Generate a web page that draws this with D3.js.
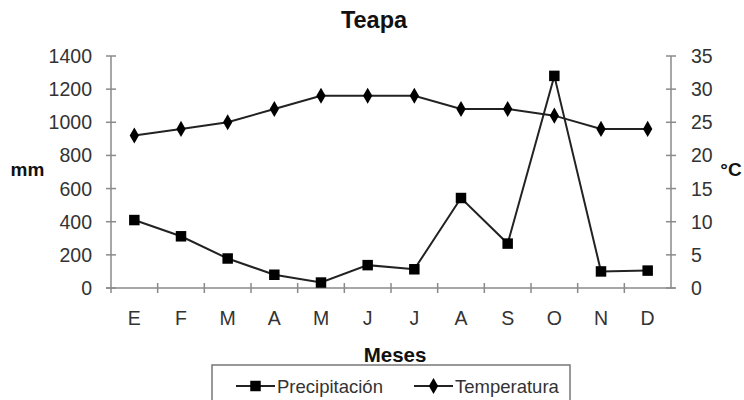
<!DOCTYPE html>
<html><head><meta charset="utf-8">
<script src="https://cdn.jsdelivr.net/npm/d3@7"></script>
<style>body{margin:0;background:#fff}svg{display:block}</style>
</head><body><svg id="c" width="744" height="400"></svg>
<script>
const months = ["E","F","M","A","M","J","J","A","S","O","N","D"];
const precip = [410, 312, 178, 80, 33, 138, 113, 543, 268, 1280, 100, 105];
const temp = [23, 24, 25, 27, 29, 29, 29, 27, 27, 26, 24, 24];
const leftTicks = [0,200,400,600,800,1000,1200,1400];
const rightTicks = [0,5,10,15,20,25,30,35];
const seriesNames = ["Precipitación","Temperatura"];

const svg = d3.select("#c");
const font = "Liberation Sans, Arial, sans-serif";
const x0 = 111, x1 = 671, yTop = 56, yBot = 288;
const xb = d3.scaleBand().domain(d3.range(12)).range([x0, x1]);
const yL = d3.scaleLinear().domain([0,1400]).range([yBot, yTop]);
const yR = d3.scaleLinear().domain([0,35]).range([yBot, yTop]);
const cx = i => xb(i) + xb.bandwidth()/2;
const axisCol = "#8a8a8a", textCol = "#333";

svg.append("line").attr("x1",x0).attr("x2",x0).attr("y1",yTop).attr("y2",yBot).attr("stroke",axisCol).attr("stroke-width",1.5);
svg.append("line").attr("x1",x1).attr("x2",x1).attr("y1",yTop).attr("y2",yBot).attr("stroke",axisCol).attr("stroke-width",1.5);
svg.append("line").attr("x1",x0-5).attr("x2",x1+4).attr("y1",yBot).attr("y2",yBot).attr("stroke",axisCol).attr("stroke-width",1.5);

leftTicks.forEach(v=>{
  svg.append("line").attr("x1",x0-5).attr("x2",x0+5).attr("y1",yL(v)).attr("y2",yL(v)).attr("stroke",axisCol).attr("stroke-width",1.5);
  svg.append("text").attr("x",x0-19).attr("y",yL(v)).attr("dy","0.36em").attr("text-anchor","end")
    .attr("font-family",font).attr("font-size",19.5).attr("fill",textCol).text(v);
});
rightTicks.forEach(v=>{
  svg.append("line").attr("x1",x1-5).attr("x2",x1+5).attr("y1",yR(v)).attr("y2",yR(v)).attr("stroke",axisCol).attr("stroke-width",1.5);
  svg.append("text").attr("x",x1+20).attr("y",yR(v)).attr("dy","0.36em").attr("text-anchor","start")
    .attr("font-family",font).attr("font-size",19.5).attr("fill",textCol).text(v);
});
d3.range(1,12).forEach(i=>{
  const xx = x0 + i*xb.bandwidth();
  svg.append("line").attr("x1",xx).attr("x2",xx).attr("y1",yBot-5).attr("y2",yBot+5).attr("stroke",axisCol).attr("stroke-width",1.5);
});
svg.append("line").attr("x1",x0).attr("x2",x0).attr("y1",yBot).attr("y2",yBot+5).attr("stroke",axisCol).attr("stroke-width",1.5);
months.forEach((m,i)=>{
  svg.append("text").attr("x",cx(i)).attr("y",325).attr("text-anchor","middle")
    .attr("font-family",font).attr("font-size",19.5).attr("fill",textCol).text(m);
});

const lineP = d3.line().x((d,i)=>cx(i)).y(d=>yL(d));
const lineT = d3.line().x((d,i)=>cx(i)).y(d=>yR(d));
svg.append("path").attr("d",lineT(temp)).attr("fill","none").attr("stroke","#222").attr("stroke-width",2);
svg.append("path").attr("d",lineP(precip)).attr("fill","none").attr("stroke","#222").attr("stroke-width",2);
const sq = d3.symbol().type(d3.symbolSquare).size(110);
const dm = d3.symbol().type(d3.symbolDiamond).size(75);
temp.forEach((v,i)=>svg.append("path").attr("d",dm()).attr("transform",`translate(${cx(i)},${yR(v)})`).attr("fill","#000"));
precip.forEach((v,i)=>svg.append("path").attr("d",sq()).attr("transform",`translate(${cx(i)},${yL(v)})`).attr("fill","#000"));

svg.append("text").attr("x",374).attr("y",28).attr("text-anchor","middle").attr("font-family",font)
  .attr("font-weight","bold").attr("font-size",23.5).attr("fill","#111").text("Teapa");
svg.append("text").attr("x",27.5).attr("y",176).attr("text-anchor","middle").attr("font-family",font)
  .attr("font-weight","bold").attr("font-size",19).attr("fill","#111").text("mm");
svg.append("text").attr("x",731).attr("y",176).attr("text-anchor","middle").attr("font-family",font)
  .attr("font-weight","bold").attr("font-size",19).attr("fill","#111").text("°C");
svg.append("text").attr("x",395).attr("y",362).attr("text-anchor","middle").attr("font-family",font)
  .attr("font-weight","bold").attr("font-size",20.5).attr("fill","#111").text("Meses");

svg.append("rect").attr("x",212).attr("y",365).attr("width",358).attr("height",44).attr("fill","#fff").attr("stroke","#777").attr("stroke-width",1.5);
const legs = [{sym:sq, x:236},{sym:dm, x:414}];
legs.forEach((l,k)=>{
  svg.append("line").attr("x1",l.x).attr("x2",l.x+39).attr("y1",386).attr("y2",386).attr("stroke","#222").attr("stroke-width",2);
  svg.append("path").attr("d",l.sym()).attr("transform",`translate(${l.x+19.5},386)`).attr("fill","#000");
  svg.append("text").attr("x",l.x+41).attr("y",386).attr("dy","0.36em").attr("font-family",font)
    .attr("font-size",18.5).attr("fill",textCol).text(seriesNames[k]);
});
</script></body></html>
